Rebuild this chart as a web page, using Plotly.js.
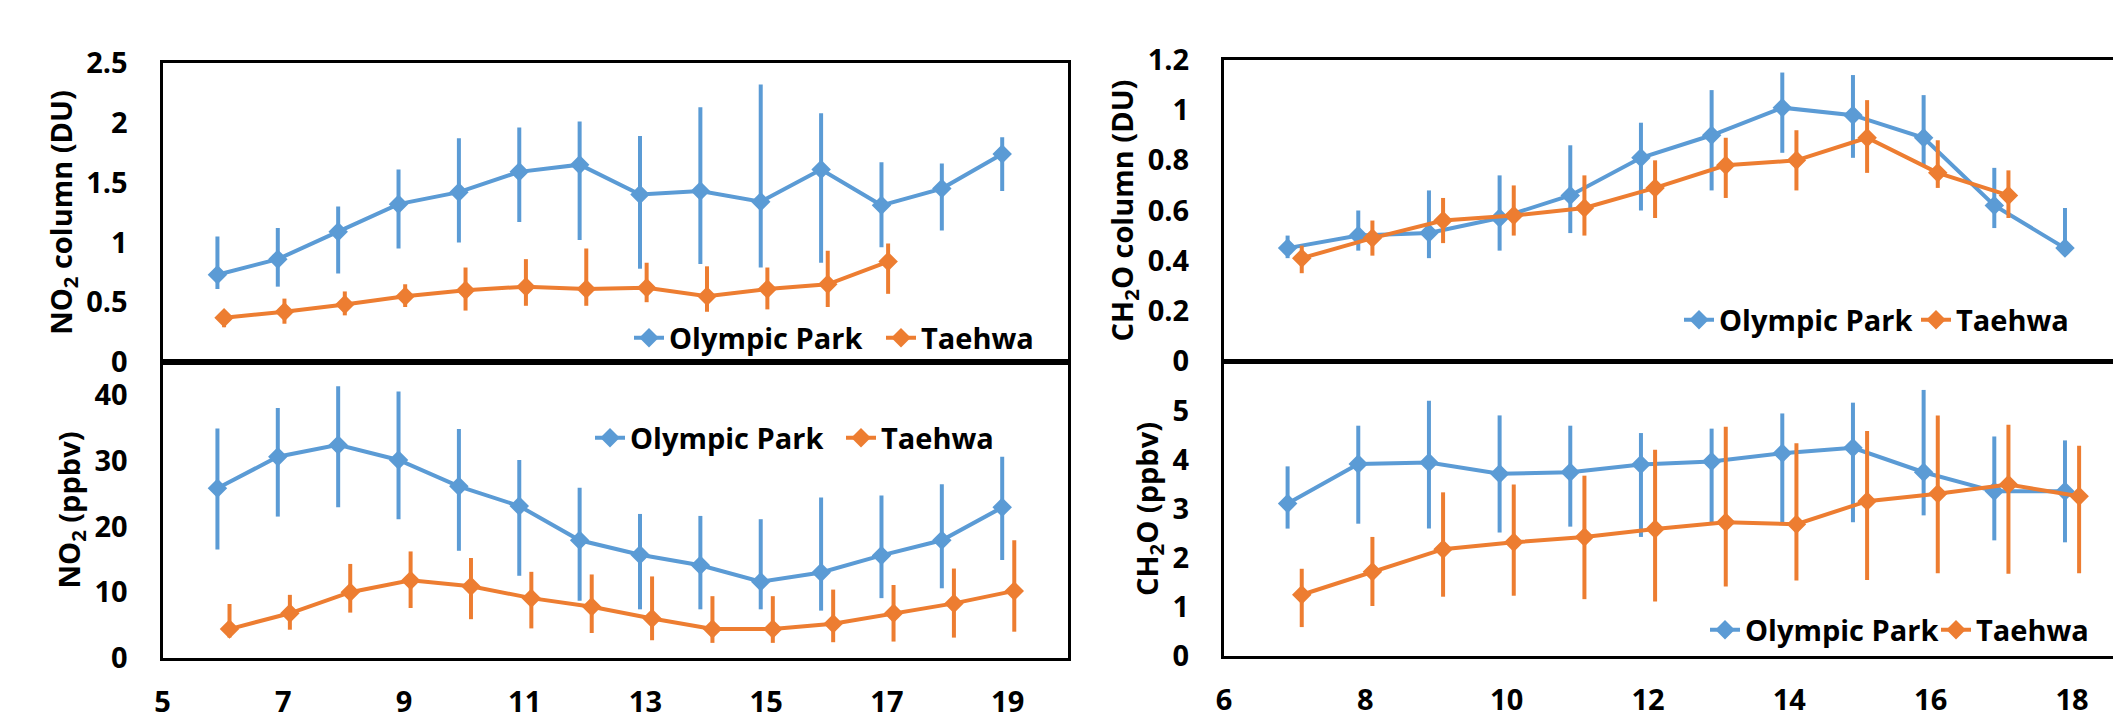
<!DOCTYPE html>
<html>
<head>
<meta charset="utf-8">
<script src="https://cdn.plot.ly/plotly-3.0.1.min.js"></script>
<style>
html, body { margin: 0; padding: 0; overflow: hidden; background: #fff; }
#chart { width: 2113px; height: 720px; }
</style>
</head>
<body>
<div id="chart"></div>
<script>
// ---------- data ----------
var seriesNames = ["Olympic Park", "Taehwa"];

// NO2 (left panels), hours 6..19
var no2HoursOP = [6, 7, 8, 9, 10, 11, 12, 13, 14, 15, 16, 17, 18, 19];
var no2HoursTH_col = [6, 7, 8, 9, 10, 11, 12, 13, 14, 15, 16, 17];
var no2HoursTH_sfc = [6, 7, 8, 9, 10, 11, 12, 13, 14, 15, 16, 17, 18, 19];

var no2ColOP = [0.73, 0.86, 1.09, 1.32, 1.42, 1.59, 1.65, 1.40, 1.43, 1.34, 1.61, 1.31, 1.45, 1.74];
var no2ColOPplus = [0.32, 0.26, 0.21, 0.29, 0.45, 0.37, 0.36, 0.49, 0.70, 0.98, 0.47, 0.36, 0.21, 0.14];
var no2ColOPminus = [0.12, 0.23, 0.35, 0.37, 0.42, 0.42, 0.63, 0.62, 0.61, 0.55, 0.78, 0.35, 0.35, 0.31];

var no2ColTH = [0.37, 0.42, 0.48, 0.55, 0.60, 0.63, 0.61, 0.62, 0.55, 0.61, 0.65, 0.84];
var no2ColTHplus = [0.06, 0.11, 0.11, 0.10, 0.19, 0.23, 0.34, 0.21, 0.25, 0.18, 0.28, 0.15];
var no2ColTHminus = [0.08, 0.10, 0.09, 0.09, 0.17, 0.16, 0.14, 0.12, 0.13, 0.17, 0.19, 0.27];

var no2SfcOP = [25.8, 30.6, 32.4, 30.1, 26.1, 23.1, 17.9, 15.7, 14.1, 11.6, 13.0, 15.6, 17.9, 22.9];
var no2SfcOPplus = [9.1, 7.4, 8.9, 10.4, 8.7, 7.0, 8.0, 6.2, 7.5, 9.5, 11.4, 9.1, 8.5, 7.7];
var no2SfcOPminus = [9.3, 9.1, 9.5, 9.0, 9.8, 10.6, 9.2, 8.3, 6.7, 4.2, 5.8, 6.5, 7.3, 8.0];

var no2SfcTH = [4.4, 6.8, 10.0, 11.8, 10.9, 9.1, 7.8, 6.0, 4.4, 4.4, 5.2, 6.8, 8.3, 10.2];
var no2SfcTHplus = [3.8, 2.8, 4.3, 4.4, 4.3, 4.0, 4.9, 6.4, 5.0, 5.0, 5.2, 4.3, 5.3, 7.7];
var no2SfcTHminus = [1.3, 2.5, 3.1, 4.2, 5.0, 4.6, 4.0, 3.3, 2.1, 2.1, 2.8, 4.3, 5.2, 6.2];

// CH2O (right panels), hours 7..18
var ch2oHoursOP = [7, 8, 9, 10, 11, 12, 13, 14, 15, 16, 17, 18];
var ch2oHoursTH_col = [7, 8, 9, 10, 11, 12, 13, 14, 15, 16, 17];
var ch2oHoursTH_sfc = [7, 8, 9, 10, 11, 12, 13, 14, 15, 16, 17, 18];

var ch2oColOP = [0.45, 0.50, 0.51, 0.57, 0.66, 0.81, 0.90, 1.01, 0.98, 0.89, 0.62, 0.45];
var ch2oColOPplus = [0.05, 0.10, 0.17, 0.17, 0.20, 0.14, 0.18, 0.14, 0.16, 0.17, 0.15, 0.16];
var ch2oColOPminus = [0.04, 0.06, 0.10, 0.13, 0.15, 0.21, 0.22, 0.18, 0.17, 0.11, 0.09, 0.03];

var ch2oColTH = [0.41, 0.49, 0.56, 0.58, 0.61, 0.69, 0.78, 0.80, 0.89, 0.75, 0.66];
var ch2oColTHplus = [0.05, 0.07, 0.09, 0.12, 0.13, 0.11, 0.11, 0.12, 0.15, 0.13, 0.10];
var ch2oColTHminus = [0.06, 0.07, 0.09, 0.08, 0.11, 0.12, 0.13, 0.12, 0.14, 0.06, 0.09];

var ch2oSfcOP = [3.11, 3.92, 3.95, 3.72, 3.75, 3.91, 3.97, 4.14, 4.25, 3.75, 3.36, 3.36];
var ch2oSfcOPplus = [0.76, 0.78, 1.26, 1.19, 0.95, 0.64, 0.67, 0.81, 0.92, 1.68, 1.12, 1.04];
var ch2oSfcOPminus = [0.51, 1.22, 1.35, 1.20, 1.11, 1.48, 1.27, 1.44, 1.52, 0.88, 1.00, 1.04];

var ch2oSfcTH = [1.25, 1.72, 2.18, 2.32, 2.43, 2.59, 2.73, 2.69, 3.16, 3.31, 3.50, 3.26];
var ch2oSfcTHplus = [0.53, 0.71, 1.16, 1.18, 1.25, 1.62, 1.95, 1.65, 1.43, 1.60, 1.22, 1.03];
var ch2oSfcTHminus = [0.66, 0.70, 0.97, 1.09, 1.27, 1.48, 1.31, 1.15, 1.61, 1.62, 1.82, 1.57];

// tick labels
var leftXTicks = [5, 7, 9, 11, 13, 15, 17, 19];
var rightXTicks = [6, 8, 10, 12, 14, 16, 18];
var no2ColTicks = [0, 0.5, 1, 1.5, 2, 2.5];
var no2SfcTicks = [0, 10, 20, 30, 40];
var ch2oColTicks = [0, 0.2, 0.4, 0.6, 0.8, 1, 1.2];
var ch2oSfcTicks = [0, 1, 2, 3, 4, 5];

// ---------- style ----------
var BLUE = "#5B9BD5", ORANGE = "#ED7D31";
var FAMILY = "'Open Sans', 'Noto Sans', sans-serif";
var FONT = {family: FAMILY, size: 29, color: "#000", weight: "bold"};
var W = 2113, H = 720;

function shift(arr, d) { return arr.map(function (v) { return v + d; }); }

function tr(name, color, x, y, plus, minus, xa, ya, leg) {
  return {
    type: "scatter", mode: "lines+markers", name: name,
    x: x, y: y, xaxis: xa, yaxis: ya, legend: leg, showlegend: true,
    line: {color: color, width: 4},
    marker: {symbol: "diamond", size: 15, color: color},
    error_y: {type: "data", symmetric: false, array: plus, arrayminus: minus,
              color: color, thickness: 4, width: 0},
    hoverinfo: "x+y"
  };
}

var data = [
  // top-left: NO2 column
  tr(seriesNames[0], BLUE, shift(no2HoursOP, -0.09), no2ColOP, no2ColOPplus, no2ColOPminus, "x2", "y2", "legend"),
  tr(seriesNames[1], ORANGE, shift(no2HoursTH_col, 0.02), no2ColTH, no2ColTHplus, no2ColTHminus, "x2", "y2", "legend"),
  // bottom-left: NO2 surface
  tr(seriesNames[0], BLUE, shift(no2HoursOP, -0.09), no2SfcOP, no2SfcOPplus, no2SfcOPminus, "x", "y", "legend2"),
  tr(seriesNames[1], ORANGE, shift(no2HoursTH_sfc, 0.11), no2SfcTH, no2SfcTHplus, no2SfcTHminus, "x", "y", "legend2"),
  // top-right: CH2O column
  tr(seriesNames[0], BLUE, shift(ch2oHoursOP, -0.1), ch2oColOP, ch2oColOPplus, ch2oColOPminus, "x4", "y4", "legend3"),
  tr(seriesNames[1], ORANGE, shift(ch2oHoursTH_col, 0.1), ch2oColTH, ch2oColTHplus, ch2oColTHminus, "x4", "y4", "legend3"),
  // bottom-right: CH2O surface
  tr(seriesNames[0], BLUE, shift(ch2oHoursOP, -0.1), ch2oSfcOP, ch2oSfcOPplus, ch2oSfcOPminus, "x3", "y3", "legend4"),
  tr(seriesNames[1], ORANGE, shift(ch2oHoursTH_sfc, 0.1), ch2oSfcTH, ch2oSfcTHplus, ch2oSfcTHminus, "x3", "y3", "legend4")
];

function axBase(extra) {
  var a = {
    showline: true, mirror: true, linecolor: "#000", linewidth: 3,
    showgrid: false, zeroline: false, ticks: "", tickfont: FONT,
    fixedrange: true, automargin: false
  };
  for (var k in extra) a[k] = extra[k];
  return a;
}

var LX = [162.5 / W, 1068 / W];
var RX = [1224 / W, 1];
var RIGHT_MAX = 6 + (W - 1224) / 70.67;

function legendAt(px, py, ew) {
  return {
    x: px / W, y: 1 - py / H, xanchor: "left", yanchor: "middle",
    orientation: "h", bgcolor: "rgba(0,0,0,0)", borderwidth: 0,
    font: {family: FAMILY, size: 29, color: "#000", weight: "bold"},
    entrywidth: ew, entrywidthmode: "pixels", itemwidth: 30, tracegroupgap: 0
  };
}

var layout = {
  width: W, height: H,
  margin: {l: 0, r: 0, t: 0, b: 0, pad: 0, autoexpand: false},
  paper_bgcolor: "#fff", plot_bgcolor: "#fff",
  font: FONT,
  showlegend: true,
  // bottom-left
  xaxis: axBase({domain: LX, anchor: "y", range: [5, 20], tickvals: leftXTicks, ticklabelstandoff: 16}),
  yaxis: axBase({domain: [1 - 658 / H, 1 - 362 / H], anchor: "x", range: [0, 45], tickvals: no2SfcTicks,
                 ticklabelstandoff: 26,
                 title: {text: "NO<sub>2</sub> (ppbv)", font: FONT, standoff: 6}}),
  // top-left
  xaxis2: axBase({domain: LX, anchor: "y2", matches: "x", range: [5, 20], showticklabels: false}),
  yaxis2: axBase({domain: [1 - 362 / H, 1 - 63 / H], anchor: "x2", range: [0, 2.5], tickvals: no2ColTicks,
                  ticklabelstandoff: 26,
                  title: {text: "NO<sub>2</sub> column (DU)", font: FONT, standoff: 6}}),
  // bottom-right
  xaxis3: axBase({domain: RX, anchor: "y3", range: [6, RIGHT_MAX], tickvals: rightXTicks, ticklabelstandoff: 16}),
  yaxis3: axBase({domain: [1 - 656 / H, 1 - 362 / H], anchor: "x3", range: [0, 6], tickvals: ch2oSfcTicks,
                  mirror: false, ticklabelstandoff: 26,
                  title: {text: "CH<sub>2</sub>O (ppbv)", font: FONT, standoff: 6}}),
  // top-right
  xaxis4: axBase({domain: RX, anchor: "y4", matches: "x3", range: [6, RIGHT_MAX], showticklabels: false}),
  yaxis4: axBase({domain: [1 - 361 / H, 1 - 60 / H], anchor: "x4", range: [0, 1.2], tickvals: ch2oColTicks,
                  mirror: false, ticklabelstandoff: 26,
                  title: {text: "CH<sub>2</sub>O column (DU)", font: FONT, standoff: 6}}),
  legend: legendAt(629, 338, 207),
  legend2: legendAt(590, 438, 206),
  legend3: legendAt(1679, 320, 192),
  legend4: legendAt(1705, 630, 186)
};

Plotly.newPlot("chart", data, layout, {displayModeBar: false, staticPlot: true});
</script>
</body>
</html>
